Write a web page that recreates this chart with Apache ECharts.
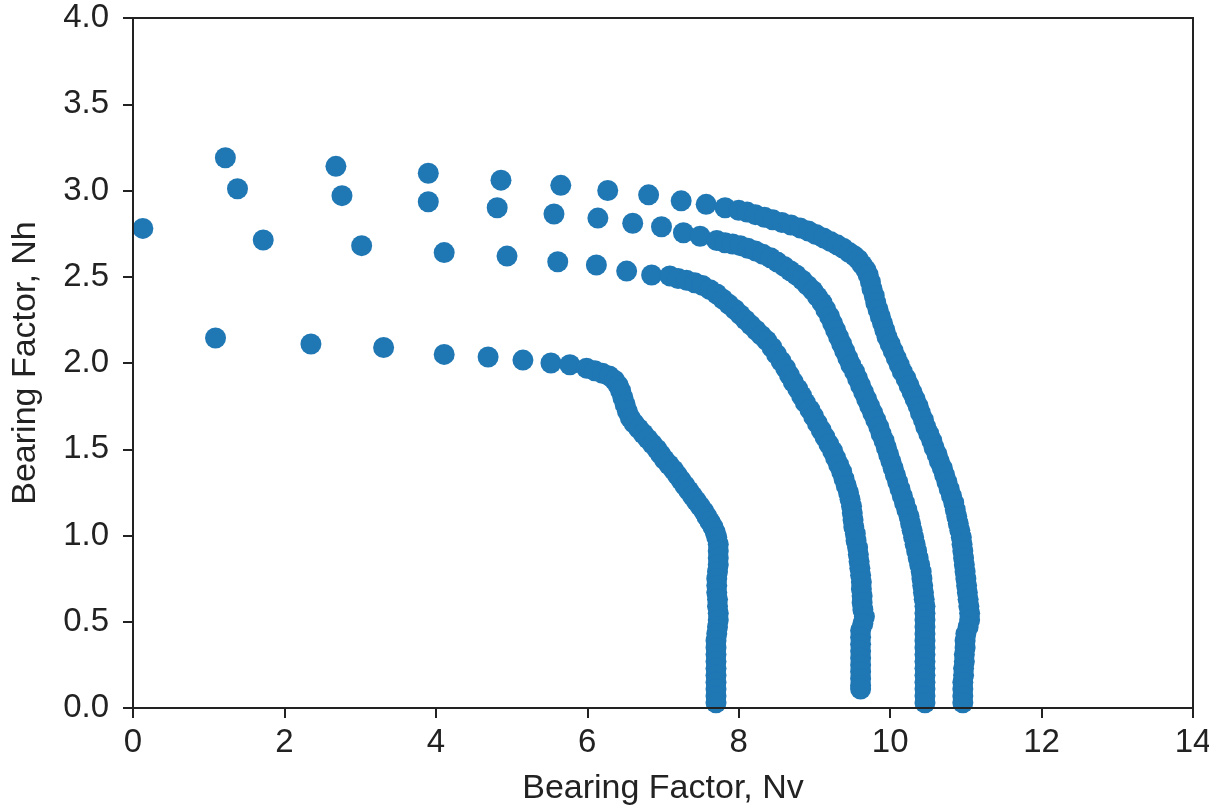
<!DOCTYPE html>
<html>
<head>
<meta charset="utf-8">
<script src="https://cdn.jsdelivr.net/npm/echarts@6/dist/echarts.min.js"></script>
<style>
  html, body { margin: 0; padding: 0; background: #ffffff; }
  #chart { width: 1209px; height: 809px; }
</style>
</head>
<body>
<div id="chart"></div>
<script>
// Bearing factor envelopes: each series is a list of [Nv, Nh] points.
const envelopeA = [
  [1.22, 3.19], [2.68, 3.14], [3.90, 3.10], [4.86, 3.06], [5.65, 3.03], [6.27, 3.00],
  [6.81, 2.975], [7.24, 2.94], [7.57, 2.92], [7.82, 2.90],
  [8.00, 2.885], [8.11, 2.875], [8.22, 2.86], [8.34, 2.845], [8.45, 2.83], [8.57, 2.815],
  [8.69, 2.80], [8.81, 2.783], [8.92, 2.765], [9.02, 2.745], [9.12, 2.725], [9.21, 2.705],
  [9.30, 2.685], [9.38, 2.665], [9.46, 2.64], [9.53, 2.62], [9.58, 2.60], [9.63, 2.57],
  [9.68, 2.54], [9.71, 2.51], [9.74, 2.47], [9.76, 2.43], [9.79, 2.39], [9.81, 2.35],
  [9.84, 2.31], [9.87, 2.27], [9.90, 2.23], [9.93, 2.19], [9.96, 2.15], [10.00, 2.11],
  [10.04, 2.07], [10.08, 2.03], [10.12, 1.99], [10.16, 1.95], [10.21, 1.91], [10.25, 1.87],
  [10.29, 1.83], [10.33, 1.79], [10.37, 1.75], [10.40, 1.71], [10.44, 1.67], [10.47, 1.63],
  [10.51, 1.59], [10.55, 1.55], [10.58, 1.51], [10.62, 1.47], [10.65, 1.43], [10.69, 1.39],
  [10.72, 1.35], [10.75, 1.31], [10.78, 1.27], [10.81, 1.23], [10.84, 1.19], [10.86, 1.15],
  [10.88, 1.11], [10.90, 1.07], [10.92, 1.03], [10.94, 0.99], [10.95, 0.95], [10.96, 0.91],
  [10.97, 0.87], [10.98, 0.83], [10.99, 0.79], [11.00, 0.75], [11.01, 0.71], [11.02, 0.67],
  [11.03, 0.63], [11.04, 0.59], [11.05, 0.55], [11.05, 0.51], [11.03, 0.47], [11.00, 0.43],
  [10.99, 0.39], [10.99, 0.35], [10.98, 0.31], [10.98, 0.27], [10.97, 0.23], [10.97, 0.19],
  [10.96, 0.15], [10.96, 0.11], [10.96, 0.07], [10.96, 0.03]
];

const envelopeB = [
  [0.13, 2.78],
  [1.38, 3.01], [2.76, 2.97], [3.90, 2.935], [4.81, 2.90], [5.56, 2.864], [6.14, 2.84],
  [6.60, 2.81], [6.98, 2.79], [7.27, 2.755], [7.49, 2.735], [7.71, 2.71],
  [7.82, 2.697], [7.92, 2.69], [8.02, 2.68], [8.12, 2.665], [8.22, 2.65], [8.32, 2.63],
  [8.42, 2.61], [8.51, 2.585], [8.60, 2.56], [8.68, 2.535], [8.76, 2.51], [8.84, 2.48],
  [8.91, 2.45], [8.98, 2.42], [9.04, 2.385], [9.10, 2.35], [9.15, 2.31], [9.20, 2.27],
  [9.24, 2.23], [9.28, 2.19], [9.32, 2.15], [9.36, 2.11], [9.40, 2.07], [9.44, 2.03],
  [9.48, 1.99], [9.53, 1.95], [9.57, 1.91], [9.61, 1.87], [9.65, 1.83], [9.69, 1.79],
  [9.73, 1.75], [9.77, 1.71], [9.81, 1.67], [9.85, 1.63], [9.88, 1.59], [9.92, 1.55],
  [9.95, 1.51], [9.98, 1.47], [10.01, 1.43], [10.04, 1.39], [10.07, 1.35], [10.10, 1.31],
  [10.13, 1.27], [10.16, 1.23], [10.19, 1.19], [10.22, 1.15], [10.25, 1.11], [10.27, 1.07],
  [10.29, 1.03], [10.31, 0.99], [10.33, 0.95], [10.35, 0.91], [10.37, 0.87], [10.39, 0.83],
  [10.41, 0.79], [10.42, 0.75], [10.43, 0.71], [10.44, 0.67], [10.45, 0.63], [10.46, 0.59],
  [10.46, 0.55], [10.46, 0.51], [10.46, 0.47], [10.46, 0.43], [10.46, 0.39], [10.46, 0.35],
  [10.46, 0.31], [10.46, 0.27], [10.46, 0.23], [10.46, 0.19], [10.46, 0.15], [10.46, 0.11],
  [10.46, 0.07], [10.46, 0.03]
];

const envelopeC = [
  [1.72, 2.713], [3.02, 2.68], [4.11, 2.64], [4.94, 2.62], [5.61, 2.587], [6.12, 2.568],
  [6.52, 2.533], [6.85, 2.51], [7.09, 2.505],
  [7.20, 2.49], [7.31, 2.48], [7.42, 2.465], [7.52, 2.45], [7.62, 2.425], [7.71, 2.40],
  [7.79, 2.37], [7.87, 2.34], [7.95, 2.31], [8.02, 2.28], [8.09, 2.25], [8.16, 2.22],
  [8.23, 2.19], [8.30, 2.16], [8.37, 2.13], [8.44, 2.09], [8.50, 2.05], [8.56, 2.01],
  [8.62, 1.97], [8.67, 1.93], [8.72, 1.89], [8.78, 1.85], [8.83, 1.81], [8.88, 1.77],
  [8.94, 1.73], [8.99, 1.69], [9.04, 1.65], [9.09, 1.61], [9.14, 1.57], [9.19, 1.53],
  [9.24, 1.49], [9.28, 1.45], [9.32, 1.41], [9.36, 1.37], [9.39, 1.33], [9.42, 1.29],
  [9.45, 1.25], [9.47, 1.21], [9.49, 1.17], [9.50, 1.13], [9.51, 1.09], [9.52, 1.05],
  [9.54, 1.01], [9.55, 0.97], [9.57, 0.93], [9.58, 0.89], [9.59, 0.85], [9.60, 0.81],
  [9.61, 0.77], [9.62, 0.73], [9.62, 0.69], [9.63, 0.65], [9.63, 0.61], [9.64, 0.57],
  [9.66, 0.53], [9.64, 0.49], [9.61, 0.45], [9.61, 0.41], [9.61, 0.37], [9.61, 0.33],
  [9.61, 0.29], [9.61, 0.25], [9.61, 0.21], [9.61, 0.17], [9.61, 0.13], [9.61, 0.11]
];

const envelopeD = [
  [1.09, 2.145], [2.35, 2.11], [3.31, 2.09], [4.11, 2.05], [4.69, 2.035], [5.15, 2.017],
  [5.52, 2.00], [5.77, 1.99], [5.99, 1.97],
  [6.10, 1.955], [6.20, 1.94], [6.29, 1.925], [6.36, 1.90], [6.41, 1.87], [6.44, 1.84],
  [6.47, 1.80], [6.50, 1.76], [6.53, 1.72], [6.57, 1.68], [6.62, 1.65], [6.68, 1.62],
  [6.74, 1.59], [6.80, 1.56], [6.86, 1.53], [6.92, 1.50], [6.97, 1.47], [7.02, 1.44],
  [7.08, 1.41], [7.14, 1.38], [7.19, 1.35], [7.24, 1.32], [7.29, 1.29], [7.34, 1.26],
  [7.39, 1.23], [7.44, 1.20], [7.49, 1.17], [7.54, 1.14], [7.58, 1.11], [7.62, 1.08],
  [7.66, 1.05], [7.69, 1.02], [7.71, 0.99], [7.73, 0.95], [7.73, 0.91], [7.73, 0.87],
  [7.73, 0.83], [7.72, 0.79], [7.71, 0.75], [7.71, 0.71], [7.71, 0.67], [7.72, 0.63],
  [7.72, 0.59], [7.73, 0.55], [7.73, 0.51], [7.72, 0.47], [7.71, 0.43], [7.70, 0.39],
  [7.70, 0.35], [7.70, 0.31], [7.70, 0.27], [7.70, 0.23], [7.70, 0.19], [7.70, 0.15],
  [7.70, 0.11], [7.70, 0.07], [7.70, 0.03]
];

// Axis ranges and titles
const xRange = { min: 0, max: 14, step: 2 };
const yRange = { min: 0, max: 4, step: 0.5 };
const xTitle = 'Bearing Factor, Nv';
const yTitle = 'Bearing Factor, Nh';

const ink = '#222222';
const dotColor = '#1f77b4';
const fontFamily = '"Liberation Sans", Arial, sans-serif';

const chart = echarts.init(document.getElementById('chart'), null, { renderer: 'canvas' });

function scatter(points) {
  return {
    type: 'scatter',
    data: points,
    symbol: 'circle',
    symbolSize: 21,
    clip: true,
    itemStyle: { color: dotColor, opacity: 1 },
    emphasis: { disabled: true },
    animation: false
  };
}

const axisCommon = {
  axisLine: { show: true, onZero: false, lineStyle: { color: ink, width: 2 } },
  axisTick: { show: true, inside: false, length: 10, lineStyle: { color: ink, width: 2 } },
  splitLine: { show: false },
  nameLocation: 'middle',
  nameTextStyle: { color: ink, fontFamily: fontFamily, fontSize: 34 },
  z: 5
};

chart.setOption({
  backgroundColor: '#ffffff',
  animation: false,
  grid: {
    left: 133, right: 16, top: 18, bottom: 101,
    containLabel: false,
    outerBoundsMode: 'none',
    show: true, borderColor: ink, borderWidth: 2, backgroundColor: 'transparent'
  },
  xAxis: Object.assign({}, axisCommon, {
    type: 'value',
    min: xRange.min, max: xRange.max, interval: xRange.step,
    name: xTitle,
    nameGap: 64,
    axisLabel: { color: ink, fontFamily: fontFamily, fontSize: 33, margin: 18 }
  }),
  yAxis: Object.assign({}, axisCommon, {
    type: 'value',
    min: yRange.min, max: yRange.max, interval: yRange.step,
    name: yTitle,
    nameGap: 90,
    axisLabel: {
      color: ink, fontFamily: fontFamily, fontSize: 33, margin: 24,
      formatter: v => v.toFixed(1)
    }
  }),
  series: [envelopeA, envelopeB, envelopeC, envelopeD].map(scatter)
});
</script>
</body>
</html>
